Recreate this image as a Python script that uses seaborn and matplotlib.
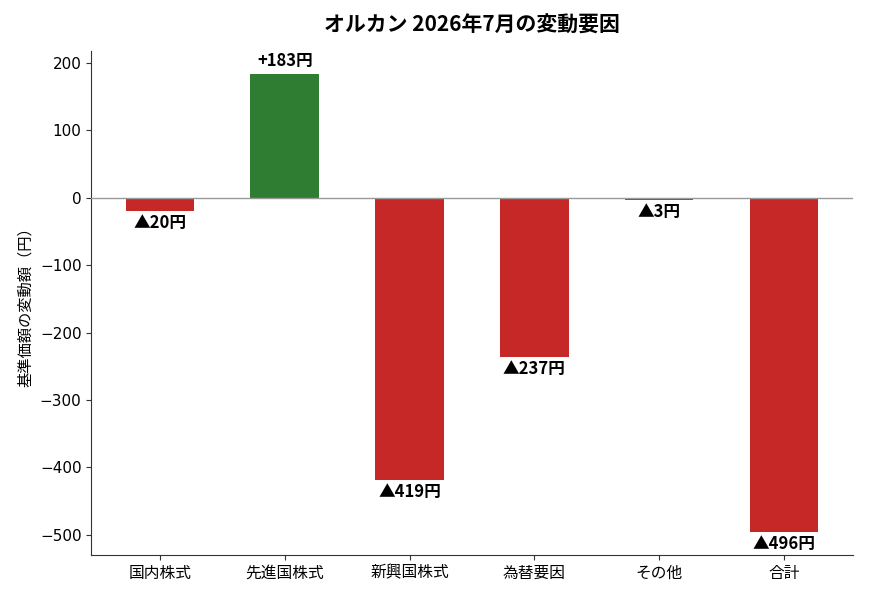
import matplotlib
matplotlib.use("Agg")
import matplotlib.pyplot as plt
import seaborn as sns
import pandas as pd

# data
categories = ['国内株式', '先進国株式', '新興国株式', '為替要因', 'その他', '合計']
changes = [-20, 183, -419, -237, -3, -496]

sns.set_style("ticks")
plt.rcParams['font.family'] = ['DejaVu Sans', 'Noto Sans CJK JP']
plt.rcParams['text.color'] = 'black'
plt.rcParams['axes.labelcolor'] = 'black'
cjk = ['Noto Sans CJK JP', 'DejaVu Sans']

df = pd.DataFrame({'category': categories, 'change': changes})
colors = ['#2e7d32' if v > 0 else '#c62828' for v in changes]

fig, ax = plt.subplots(figsize=(8.7, 5.98), dpi=100)
sns.barplot(data=df, x='category', y='change', hue='category', palette=colors,
            legend=False, width=0.55, saturation=1, linewidth=0, ax=ax)

ax.axhline(0, color='#999999', linewidth=1, zorder=3)

for i, v in enumerate(changes):
    if v >= 0:
        ax.annotate(f'+{v}円', (i, v), xytext=(0, 3), textcoords='offset points',
                    ha='center', va='bottom', fontsize=12, fontweight='bold', family=cjk)
    else:
        ax.annotate(f'▲{abs(v)}円', (i, v), xytext=(0, -2), textcoords='offset points',
                    ha='center', va='top', fontsize=12, fontweight='bold', family=cjk)

ax.set_xlim(-0.55, 5.55)
ax.set_ylim(-530, 218)
ax.set_title('オルカン 2026年7月の変動要因', fontsize=15, fontweight='bold', pad=14, family=cjk)
ax.set_xlabel('')
ax.set_ylabel('基準価額の変動額（円）', fontsize=11, family=cjk, labelpad=4)
ax.tick_params(labelsize=11, labelcolor='black', colors='#333333')
for lab in ax.get_xticklabels():
    lab.set_family(cjk)
    lab.set_fontsize(11.3)
for sp in ax.spines.values():
    sp.set_color('#333333')
sns.despine(ax=ax)

plt.subplots_adjust(left=0.105, right=0.98, top=0.915, bottom=0.072)
plt.savefig('out.png', dpi=100)
